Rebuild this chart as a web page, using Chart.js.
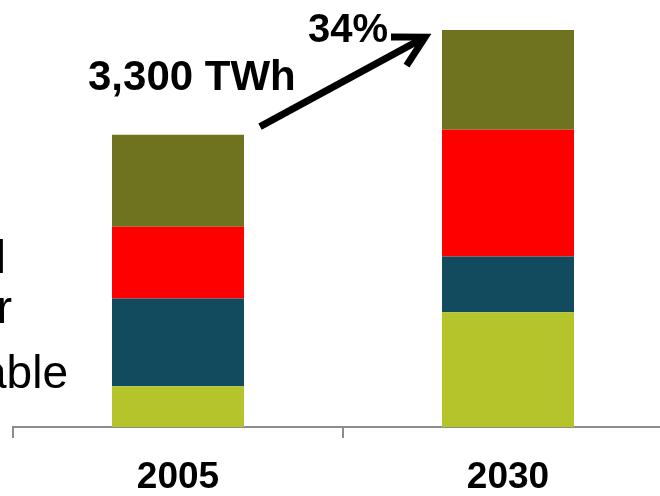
<!DOCTYPE html>
<html>
<head>
<meta charset="utf-8">
<script src="https://cdn.jsdelivr.net/npm/chart.js@4.4.1/dist/chart.umd.min.js"></script>
<style>
    html, body { margin: 0; padding: 0; overflow: hidden; background: #ffffff; }
    #wrap { position: absolute; left: 0; top: 0; width: 700px; height: 496px; }
</style>
</head>
<body>
<div id="wrap"><canvas id="diagram"></canvas></div>
<script>
    // electricity generation, TWh
    const years = ["2005", "2030"];
    const renewable = [460, 1295];
    const nuclear = [990, 630];
    const coal = [810, 1430];
    const gas = [1040, 1125];

    const totalLabel = "3,300 TWh";
    const growthLabel = "34%";

    const FONT = "'Liberation Sans', Arial, sans-serif";

    // cut-off legend text on the left edge
    const sideLabels = {
        id: 'sideLabels',
        afterDraw(chart) {
            const ctx = chart.ctx;
            const spots = [
                { i: 3, x: -12, y: 205 },
                { i: 2, x: 6, y: 273 },
                { i: 1, x: 12, y: 323 },
                { i: 0, x: 68, y: 388 }
            ];
            ctx.save();
            ctx.fillStyle = '#000000';
            ctx.font = "46px " + FONT;
            ctx.textAlign = 'right';
            ctx.textBaseline = 'alphabetic';
            spots.forEach(s => {
                ctx.fillText(chart.data.datasets[s.i].label, s.x, s.y);
            });
            ctx.restore();
        }
    };

    // growth arrow between the two stack tops
    const growthArrow = {
        id: 'growthArrow',
        afterDatasetsDraw(chart) {
            const ctx = chart.ctx;
            const meta = chart.getDatasetMeta(3);
            const a = meta.data[0];
            const b = meta.data[1];
            const x1 = a.x + a.width / 2 + 16;
            const y1 = a.y - 8;
            const x2 = b.x - b.width / 2 - 17;
            const y2 = b.y + 7;
            const ang = Math.atan2(y2 - y1, x2 - x1);
            const head = 34;
            const spread = 0.5;

            ctx.save();
            ctx.strokeStyle = '#000000';
            ctx.lineWidth = 7;
            ctx.lineCap = 'butt';
            ctx.lineJoin = 'miter';
            ctx.beginPath();
            ctx.moveTo(x1, y1);
            ctx.lineTo(x2, y2);
            ctx.stroke();
            ctx.beginPath();
            ctx.moveTo(x2 - head * Math.cos(ang - spread), y2 - head * Math.sin(ang - spread));
            ctx.lineTo(x2, y2);
            ctx.lineTo(x2 - head * Math.cos(ang + spread), y2 - head * Math.sin(ang + spread));
            ctx.stroke();

            ctx.fillStyle = '#000000';
            ctx.textBaseline = 'alphabetic';
            ctx.textAlign = 'left';
            ctx.font = "bold 42px " + FONT;
            ctx.fillText(totalLabel, 88, 90);
            ctx.font = "bold 40px " + FONT;
            ctx.fillText(growthLabel, 308, 42);
            ctx.restore();
        }
    };

    new Chart(
        document.getElementById("diagram"),
        {
            type: 'bar',
            data: {
                labels: years,
                datasets: [
                    { label: 'Renewable', data: renewable, backgroundColor: '#b5c42b' },
                    { label: 'Nuclear', data: nuclear, backgroundColor: '#124b5e' },
                    { label: 'Coal', data: coal, backgroundColor: '#ff0000' },
                    { label: 'Gas', data: gas, backgroundColor: '#6f731f' }
                ]
            },
            options: {
                responsive: true,
                maintainAspectRatio: false,
                animation: false,
                barPercentage: 0.4,
                categoryPercentage: 1,
                layout: {
                    padding: { left: 13, right: 27, top: 0, bottom: 0 }
                },
                plugins: {
                    legend: { display: false },
                    tooltip: { enabled: false }
                },
                scales: {
                    x: {
                        stacked: true,
                        afterFit(scale) { scale.height = 69; },
                        border: { display: true, color: '#8c8c8c', width: 2 },
                        grid: {
                            offset: true,
                            drawOnChartArea: false,
                            drawTicks: true,
                            tickLength: 11,
                            tickColor: '#8c8c8c',
                            lineWidth: 2
                        },
                        ticks: {
                            color: '#000000',
                            padding: 18,
                            font: { family: FONT, size: 37, weight: 'bold' }
                        }
                    },
                    y: {
                        stacked: true,
                        display: false,
                        min: 0,
                        max: 4820
                    }
                }
            },
            plugins: [sideLabels, growthArrow]
        }
    );
</script>
</body>
</html>
